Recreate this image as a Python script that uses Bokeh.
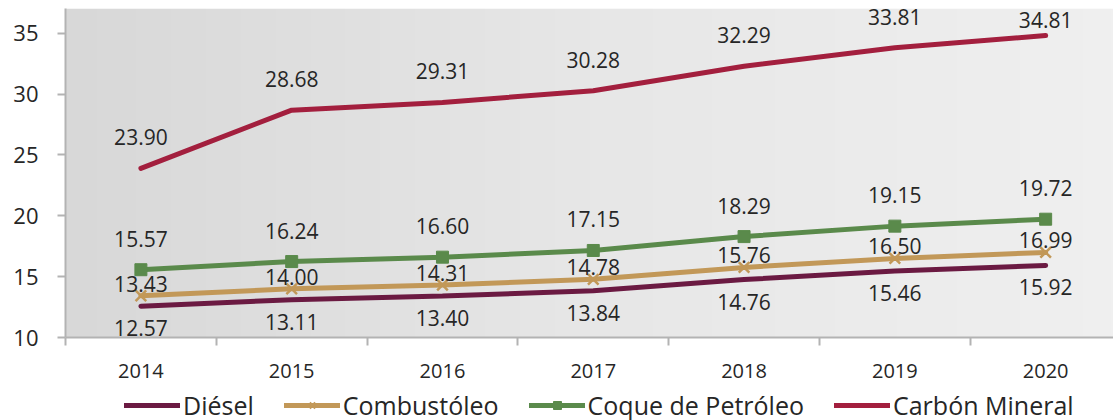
import numpy as np
from bokeh.plotting import figure
from bokeh.layouts import column
from bokeh.models import (Range1d, FixedTicker, Legend, LegendItem, ColumnDataSource,
                          CustomJSTickFormatter)
from bokeh.core.properties import value
from bokeh.embed import file_html
from bokeh.resources import INLINE

years = [2014, 2015, 2016, 2017, 2018, 2019, 2020]
diesel = [12.57, 13.11, 13.40, 13.84, 14.76, 15.46, 15.92]
combustoleo = [13.43, 14.00, 14.31, 14.78, 15.76, 16.50, 16.99]
coque = [15.57, 16.24, 16.60, 17.15, 18.29, 19.15, 19.72]
carbon = [23.90, 28.68, 29.31, 30.28, 32.29, 33.81, 34.81]
names = ["Diésel", "Combustóleo", "Coque de Petróleo", "Carbón Mineral"]
y_ticks = [10, 15, 20, 25, 30, 35]

FONT = "Open Sans"
C_DIESEL = "#6b1a42"
C_COMB = "#c29858"
C_COQUE = "#5a8a4b"
C_CARBON = "#a31f3e"

x0, x1 = 2013.5, 2020.45
y0, y1 = 10, 37.03

p = figure(frame_width=1048, frame_height=329, output_backend="svg", toolbar_location=None,
           x_range=Range1d(x0, x1), y_range=Range1d(y0, y1),
           min_border_left=65, min_border_right=0, min_border_top=8, min_border_bottom=0)
p.outline_line_color = None
p.background_fill_color = "white"
p.border_fill_color = "white"
p.xgrid.visible = False
p.ygrid.visible = False

# background gradient of the plot area
W = 300
xs = np.linspace(0, 1, W)
g = np.interp(xs, [0, 0.03, 0.5, 0.97, 1], [216, 217, 231, 239, 240]).astype(np.uint32)
img = np.empty((2, W), dtype=np.uint32)
view = img.view(dtype=np.uint8).reshape((2, W, 4))
for r in range(2):
    view[r, :, 0] = g
    view[r, :, 1] = g
    view[r, :, 2] = g
    view[r, :, 3] = 255
p.image_rgba(image=[img], x=x0, y=y0, dw=x1 - x0, dh=y1 - y0)

# label placement (pixels above/below the point); last Carbón label is pushed inside the area
carbon_label_dy = [-31, -31, -31, -31, -31, -31, -16]

src = ColumnDataSource(dict(x=years, d=diesel, c=combustoleo, q=coque, k=carbon,
                            kdy=carbon_label_dy,
                            dl=[f"{v:.2f}" for v in diesel],
                            cl=[f"{v:.2f}" for v in combustoleo],
                            ql=[f"{v:.2f}" for v in coque],
                            kl=[f"{v:.2f}" for v in carbon]))

p.line("x", "d", source=src, line_color=C_DIESEL, line_width=5, line_cap="round")
p.line("x", "c", source=src, line_color=C_COMB, line_width=5, line_cap="round")
p.scatter("x", "c", source=src, marker="x", size=15, line_color=C_COMB, line_width=2.5)
p.line("x", "q", source=src, line_color=C_COQUE, line_width=5, line_cap="round")
p.scatter("x", "q", source=src, marker="square", size=12, fill_color=C_COQUE, line_color=C_COQUE)
p.line("x", "k", source=src, line_color=C_CARBON, line_width=5, line_cap="round")

lab = dict(source=src, text_font=value(FONT), text_font_size="21px", text_color="#262626",
           text_align="center", text_baseline="middle")
p.text("x", "q", text="ql", y_offset=-31, **lab)
p.text("x", "k", text="kl", y_offset="kdy", **lab)
p.text("x", "c", text="cl", y_offset=-12, **lab)
p.text("x", "d", text="dl", y_offset=22, **lab)

# axes
for ax in (p.xaxis[0], p.yaxis[0]):
    ax.axis_line_color = "#b3b3b3"
    ax.axis_line_width = 2
    ax.major_tick_line_color = "#b3b3b3"
    ax.minor_tick_line_color = "#b3b3b3"
    ax.major_tick_line_width = 2
    ax.minor_tick_line_width = 2
    ax.major_label_text_font = FONT
    ax.major_label_text_color = "#262626"

p.yaxis.ticker = FixedTicker(ticks=y_ticks)
p.yaxis.major_tick_out = 8
p.yaxis.major_tick_in = 0
p.yaxis.minor_tick_out = 0
p.yaxis.major_label_standoff = 19
p.yaxis.major_label_text_font_size = "22px"

p.xaxis.ticker = FixedTicker(ticks=years, minor_ticks=[y - 0.5 for y in years] + [2020.5])
p.xaxis.major_tick_out = 0
p.xaxis.major_tick_in = 0
p.xaxis.minor_tick_out = 8
p.xaxis.minor_tick_in = 0
p.xaxis.major_label_standoff = 18
p.xaxis.major_label_text_font_size = "20px"
p.xaxis.formatter = CustomJSTickFormatter(code="return tick.toFixed(0);")

# legend strip (separate figure so it is not clipped); proxy renderers hold no visible data
lf = figure(width=1113, height=42, output_backend="svg", toolbar_location=None,
            x_range=Range1d(0, 1), y_range=Range1d(0, 1),
            min_border_left=0, min_border_right=0, min_border_top=0, min_border_bottom=0)
lf.axis.visible = False
lf.grid.visible = False
lf.outline_line_color = None
lf.background_fill_alpha = 0
lf.border_fill_alpha = 0
proxy = ColumnDataSource(dict(x=[np.nan], y=[np.nan]))
l_d = lf.line("x", "y", source=proxy, line_color=C_DIESEL, line_width=5, line_cap="round")
l_c = lf.line("x", "y", source=proxy, line_color=C_COMB, line_width=5, line_cap="round")
l_cm = lf.scatter("x", "y", source=proxy, marker="x", size=15, line_color=C_COMB, line_width=2.5)
l_q = lf.line("x", "y", source=proxy, line_color=C_COQUE, line_width=5, line_cap="round")
l_qm = lf.scatter("x", "y", source=proxy, marker="square", size=12, fill_color=C_COQUE,
                  line_color=C_COQUE)
l_k = lf.line("x", "y", source=proxy, line_color=C_CARBON, line_width=5, line_cap="round")

legend = Legend(items=[
    LegendItem(label=names[0], renderers=[l_d]),
    LegendItem(label=names[1], renderers=[l_c, l_cm]),
    LegendItem(label=names[2], renderers=[l_q, l_qm]),
    LegendItem(label=names[3], renderers=[l_k]),
], orientation="horizontal", location=(59, 0))
legend.label_text_font = FONT
legend.label_text_font_size = "25px"
legend.label_text_color = "#262626"
legend.glyph_width = 56
legend.glyph_height = 20
legend.label_height = 20
legend.label_standoff = 3
legend.spacing = 30
legend.padding = 0
legend.margin = 0
legend.border_line_color = None
legend.background_fill_alpha = 0
lf.add_layout(legend)

layout = column(p, lf, spacing=0)
open("out.html", "w").write(file_html(layout, INLINE))
